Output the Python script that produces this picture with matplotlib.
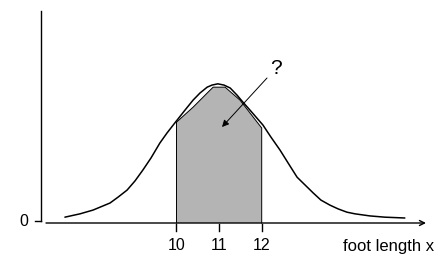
import numpy as np
import matplotlib.pyplot as plt

plt.rcParams['font.family'] = ['Liberation Sans', 'DejaVu Sans']

# foot length curve
foot_x = [7.38, 7.735, 8.04, 8.44, 8.627, 8.84, 9.026, 9.21, 9.401, 9.61,
          9.777, 9.96, 10.20, 10.39, 10.552, 10.72, 10.833, 10.97, 11.115, 11.26,
          11.42, 11.56, 11.725, 12.03, 12.218, 12.43, 12.62, 12.83, 13.02, 13.21,
          13.39, 13.60, 13.79, 14.00, 14.19, 14.54, 14.89, 15.36]
density = [0.014, 0.022, 0.031, 0.048, 0.062, 0.079, 0.101, 0.127, 0.156, 0.192,
           0.216, 0.240, 0.271, 0.295, 0.312, 0.326, 0.331, 0.334, 0.331, 0.324,
           0.307, 0.290, 0.271, 0.235, 0.206, 0.175, 0.144, 0.110, 0.091, 0.072,
           0.055, 0.043, 0.034, 0.026, 0.022, 0.017, 0.014, 0.012]

# shaded area between 10 and 12 (top edge as drawn)
shade_x = [10.0, 10.39, 10.79, 10.86, 11.14, 11.49, 12.0]
shade_top = [0.242, 0.278, 0.319, 0.326, 0.326, 0.295, 0.228]

tick_vals = [10, 11, 12]
tick_labels = ['10', '11', '12']

# pixel -> data helpers (figure is 444x272 px)
PX_UNIT = 42.6
S = 0.0024


def dx(px):
    return 10 + (px - 176.5) / PX_UNIT


def dy(py):
    return (223 - py) * S


fig = plt.figure(figsize=(4.44, 2.72), dpi=100)
ax = fig.add_axes([0, 0, 1, 1])
ax.set_xlim(dx(0), dx(444))
ax.set_ylim(dy(272), dy(0))
ax.axis('off')

# shaded region
ax.fill_between(shade_x, 0, shade_top, facecolor='#b4b4b4', edgecolor='none')
ax.plot([shade_x[0]] + shade_x + [shade_x[-1]], [0] + shade_top + [0],
        color='black', lw=0.7)

# the curve
ax.plot(foot_x, density, color='black', lw=1.1, solid_capstyle='round',
        solid_joinstyle='round')

# y axis and zero tick
ax.plot([dx(41), dx(41)], [dy(11), dy(221)], color='black', lw=1)
ax.plot([dx(35), dx(41)], [dy(221), dy(221)], color='black', lw=1)
ax.text(dx(24), dy(221.5), '0', ha='center', va='center', fontsize=11.5)

# x axis with arrow
ax.annotate('', xy=(dx(426), 0), xytext=(dx(46), 0),
            arrowprops=dict(arrowstyle='->', lw=1, color='black',
                            mutation_scale=9, shrinkA=0, shrinkB=0))
for v, lab in zip(tick_vals, tick_labels):
    ax.plot([v, v], [dy(224), dy(231)], color='black', lw=1)
    ax.text(v, dy(246), lab, ha='center', va='center', fontsize=11.5)
ax.text(dx(343), dy(246), 'foot length x', ha='left', va='center', fontsize=12)

# question mark and arrow
ax.text(dx(275.5), dy(68), '?', ha='center', va='center', fontsize=15)
ax.annotate('', xy=(dx(222), dy(127)), xytext=(dx(267), dy(78)),
            arrowprops=dict(arrowstyle='-|>', lw=0.7, color='black',
                            mutation_scale=10, shrinkA=0, shrinkB=0))

fig.savefig('out.png', dpi=100)
